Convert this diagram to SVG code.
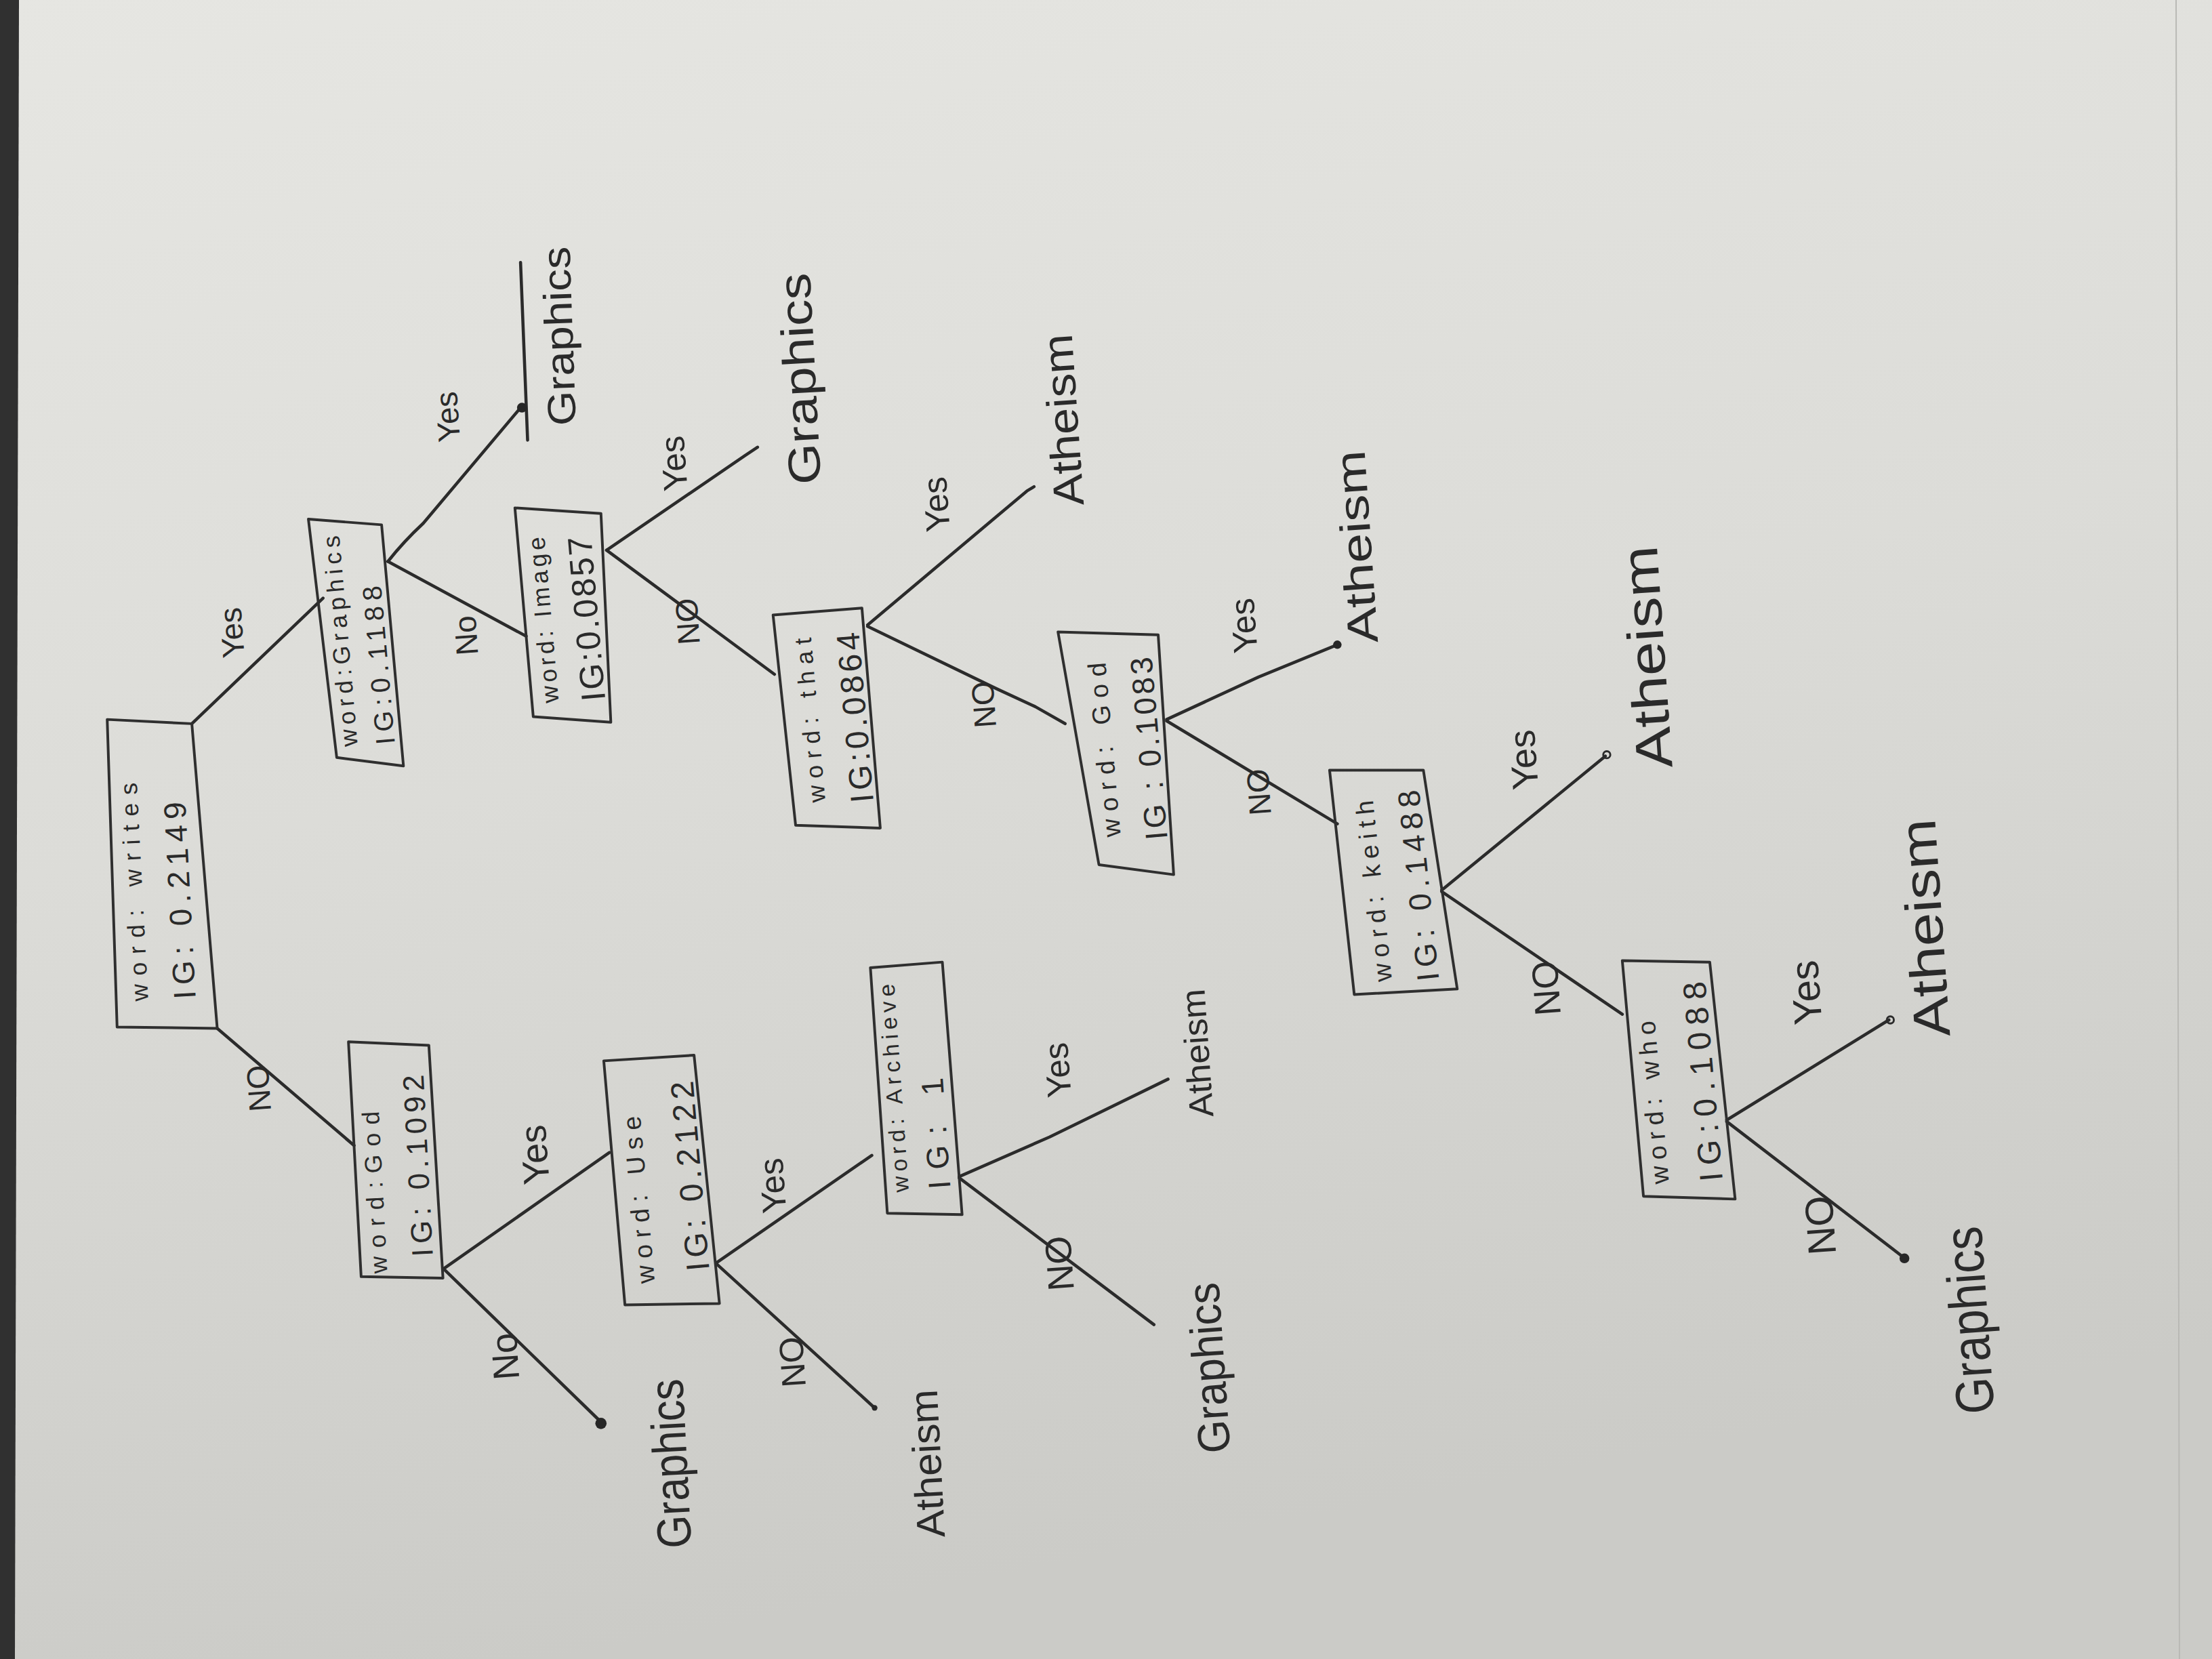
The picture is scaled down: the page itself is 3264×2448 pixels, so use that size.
<svg xmlns="http://www.w3.org/2000/svg" width="3264" height="2448" viewBox="0 0 3264 2448">
<defs>
<linearGradient id="paper" x1="0" y1="0" x2="0.25" y2="1">
<stop offset="0" stop-color="#e6e6e2"/>
<stop offset="0.5" stop-color="#dcdcd8"/>
<stop offset="1" stop-color="#cbcbc7"/>
</linearGradient>
<style>
.ink{fill:none;stroke:#2b2b2b;stroke-width:2.2;stroke-linecap:round;stroke-linejoin:round}
.box{fill:none;stroke:#2f2f2f;stroke-width:1.9;stroke-linejoin:round}
.t{font-family:"Liberation Sans",Arial,sans-serif;fill:#2a2a2a;text-anchor:middle}
.dot{fill:#262626}
.odot{fill:none;stroke:#2b2b2b;stroke-width:1.4}
</style>
</defs>
<rect x="0" y="0" width="3264" height="2448" fill="url(#paper)"/>
<polygon points="0,0 28,0 22,2448 0,2448" fill="#303030"/>
<line x1="3211" y1="0" x2="3216" y2="2448" stroke="#b9b9b5" stroke-width="2"/>
<g transform="scale(2.0816)">
<g id="connectors">
<path class="ink" d="M136,513 L229,424"/>
<path class="ink" d="M275,398 Q286,384 300,371 L369,289"/>
<path class="ink" d="M275,398 L373,451"/>
<path class="ink" d="M430,390 L528,323 L537,317"/>
<path class="ink" d="M430,390 L549,478"/>
<path class="ink" d="M615,443 L728,348 L733,345"/>
<path class="ink" d="M615,444 L706,488 L734,501 L755,513"/>
<path class="ink" d="M827,510 L892,480 L948,457"/>
<path class="ink" d="M827,511 L948,584"/>
<path class="ink" d="M1022,631 L1138,536"/>
<path class="ink" d="M1022,632 L1150,719"/>
<path class="ink" d="M1224,794 L1339,723"/>
<path class="ink" d="M1224,795 L1349,891"/>
<path class="ink" d="M154,729 L251,812"/>
<path class="ink" d="M315,899 L432,817"/>
<path class="ink" d="M315,900 L426,1008"/>
<path class="ink" d="M508,895 L618,819"/>
<path class="ink" d="M508,896 L620,998"/>
<path class="ink" d="M680,834 L744,806 L828,765"/>
<path class="ink" d="M680,835 L818,939"/>
</g>
<g id="edge-labels">
<text class="t" font-size="22" transform="translate(172,448) rotate(-94)">Yes</text>
<text class="t" font-size="22" transform="translate(191,771) rotate(-94)">NO</text>
<text class="t" font-size="22" transform="translate(325,295) rotate(-94)">Yes</text>
<text class="t" font-size="22" transform="translate(338,450) rotate(-94)">No</text>
<text class="t" font-size="24" transform="translate(486,328) rotate(-94)">Yes</text>
<text class="t" font-size="22" transform="translate(495,440) rotate(-94)">NO</text>
<text class="t" font-size="24" transform="translate(672,357) rotate(-94)">Yes</text>
<text class="t" font-size="22" transform="translate(705,499) rotate(-94)">NO</text>
<text class="t" font-size="24" transform="translate(890,443) rotate(-94)">Yes</text>
<text class="t" font-size="22" transform="translate(900,561) rotate(-94)">NO</text>
<text class="t" font-size="26" transform="translate(1089,538) rotate(-94)">Yes</text>
<text class="t" font-size="26" transform="translate(1105,700) rotate(-94)">NO</text>
<text class="t" font-size="28" transform="translate(1290,703) rotate(-94)">Yes</text>
<text class="t" font-size="28" transform="translate(1300,868) rotate(-94)">NO</text>
<text class="t" font-size="26" transform="translate(388,818) rotate(-94)">Yes</text>
<text class="t" font-size="26" transform="translate(367,961) rotate(-94)">No</text>
<text class="t" font-size="24" transform="translate(556,840) rotate(-94)">Yes</text>
<text class="t" font-size="24" transform="translate(570,965) rotate(-94)">NO</text>
<text class="t" font-size="24" transform="translate(758,758) rotate(-94)">Yes</text>
<text class="t" font-size="26" transform="translate(760,895) rotate(-94)">NO</text>
</g>
<g id="node-writes">
<polygon class="box" points="76,510 136,513 154,729 83,728"/>
<text class="t" font-size="17" textLength="155" lengthAdjust="spacing" transform="translate(101,632) rotate(-93)">word: writes</text>
<text class="t" font-size="22" textLength="140" lengthAdjust="spacing" transform="translate(135,638) rotate(-93)">IG: 0.2149</text>
</g>
<g id="node-graphics">
<polygon class="box" points="218.6,368 270.5,372 286,543 238.7,537"/>
<text class="t" font-size="17" textLength="150" lengthAdjust="spacing" transform="translate(247,454) rotate(-95)">word:Graphics</text>
<text class="t" font-size="19" textLength="113" lengthAdjust="spacing" transform="translate(275,471) rotate(-95)">IG:0.1188</text>
</g>
<g id="node-image">
<polygon class="box" points="365,360 426,364 433,512 378,508"/>
<text class="t" font-size="17" textLength="118" lengthAdjust="spacing" transform="translate(391,439) rotate(-95)">word: Image</text>
<text class="t" font-size="24" textLength="117" lengthAdjust="spacing" transform="translate(424,438) rotate(-95)">IG:0.0857</text>
</g>
<g id="node-that">
<polygon class="box" points="548,436 611,431 624,587 564,585"/>
<text class="t" font-size="17" textLength="117" lengthAdjust="spacing" transform="translate(580,510) rotate(-95)">word: that</text>
<text class="t" font-size="23" textLength="121" lengthAdjust="spacing" transform="translate(614,508) rotate(-95)">IG:0.0864</text>
</g>
<g id="node-god2">
<polygon class="box" points="750,448 821,450 832,620 779,613"/>
<text class="t" font-size="18" textLength="124" lengthAdjust="spacing" transform="translate(789,531) rotate(-95)">word: God</text>
<text class="t" font-size="22" textLength="130" lengthAdjust="spacing" transform="translate(822,530) rotate(-95)">IG : 0.1083</text>
</g>
<g id="node-keith">
<polygon class="box" points="942.5,546 1009,546 1033,701 960,705"/>
<text class="t" font-size="18" textLength="129" lengthAdjust="spacing" transform="translate(980,631) rotate(-96)">word: keith</text>
<text class="t" font-size="22" textLength="136" lengthAdjust="spacing" transform="translate(1013,627) rotate(-96)">IG: 0.1488</text>
</g>
<g id="node-who">
<polygon class="box" points="1150,681 1212,682 1230,850 1165,848"/>
<text class="t" font-size="18" textLength="116" lengthAdjust="spacing" transform="translate(1178,781) rotate(-95)">word: who</text>
<text class="t" font-size="23" textLength="142" lengthAdjust="spacing" transform="translate(1215,766) rotate(-95)">IG:0.1088</text>
</g>
<g id="node-god1">
<polygon class="box" points="247,738.5 304,741 314,906 256,905"/>
<text class="t" font-size="17" textLength="115" lengthAdjust="spacing" transform="translate(271.5,845) rotate(-93)">word:God</text>
<text class="t" font-size="21" textLength="129" lengthAdjust="spacing" transform="translate(303.5,826) rotate(-93)">IG: 0.1092</text>
</g>
<g id="node-use">
<polygon class="box" points="428,752 492,748 510,924 443,925"/>
<text class="t" font-size="18" textLength="119" lengthAdjust="spacing" transform="translate(459,850) rotate(-95)">word: Use</text>
<text class="t" font-size="23" textLength="135" lengthAdjust="spacing" transform="translate(497,833) rotate(-95)">IG: 0.2122</text>
</g>
<g id="node-archieve">
<polygon class="box" points="617,686 668,682 682,861 629,860"/>
<text class="t" font-size="16" textLength="148" lengthAdjust="spacing" transform="translate(639,771) rotate(-94)">word: Archieve</text>
<text class="t" font-size="22" textLength="79" lengthAdjust="spacing" transform="translate(671,803) rotate(-94)">IG: 1</text>
</g>
<g id="leaf-graphics-1">
<path class="ink" d="M369,186 L374,312"/>
<circle class="dot" cx="370" cy="289" r="3.5"/>
<text class="t" font-size="28" textLength="127" lengthAdjust="spacingAndGlyphs" transform="translate(406,238) rotate(-92)">Graphics</text>
</g>
<g id="leaf-graphics-2">
<text class="t" font-size="32" textLength="150" lengthAdjust="spacingAndGlyphs" transform="translate(578,268) rotate(-93)">Graphics</text>
</g>
<g id="leaf-atheism-1">
<text class="t" font-size="30" textLength="122" lengthAdjust="spacingAndGlyphs" transform="translate(764,297) rotate(-94)">Atheism</text>
</g>
<g id="leaf-atheism-2">
<circle class="dot" cx="948" cy="457" r="3"/>
<text class="t" font-size="30" textLength="137" lengthAdjust="spacingAndGlyphs" transform="translate(972,387) rotate(-94)">Atheism</text>
</g>
<g id="leaf-atheism-3">
<circle class="odot" cx="1139" cy="535" r="2.5"/>
<text class="t" font-size="36" textLength="158" lengthAdjust="spacingAndGlyphs" transform="translate(1180,465) rotate(-94)">Atheism</text>
</g>
<g id="leaf-atheism-4">
<circle class="odot" cx="1340" cy="723" r="2.5"/>
<text class="t" font-size="36" textLength="155" lengthAdjust="spacingAndGlyphs" transform="translate(1377,657) rotate(-94)">Atheism</text>
</g>
<g id="leaf-graphics-4">
<circle class="dot" cx="1350" cy="892" r="3.5"/>
<text class="t" font-size="38" textLength="133" lengthAdjust="spacingAndGlyphs" transform="translate(1409,935) rotate(-94)">Graphics</text>
</g>
<g id="leaf-graphics-5">
<circle class="dot" cx="426" cy="1009" r="4"/>
<text class="t" font-size="34" textLength="120" lengthAdjust="spacingAndGlyphs" transform="translate(487,1037) rotate(-93)">Graphics</text>
</g>
<g id="leaf-atheism-5">
<circle class="dot" cx="620" cy="998" r="2"/>
<text class="t" font-size="28" textLength="105" lengthAdjust="spacingAndGlyphs" transform="translate(667,1037) rotate(-93)">Atheism</text>
</g>
<g id="leaf-atheism-6">
<text class="t" font-size="24" textLength="91" lengthAdjust="spacingAndGlyphs" transform="translate(857,746) rotate(-94)">Atheism</text>
</g>
<g id="leaf-graphics-6">
<text class="t" font-size="32" textLength="121" lengthAdjust="spacingAndGlyphs" transform="translate(868,969) rotate(-94)">Graphics</text>
</g>
</g>
</svg>
